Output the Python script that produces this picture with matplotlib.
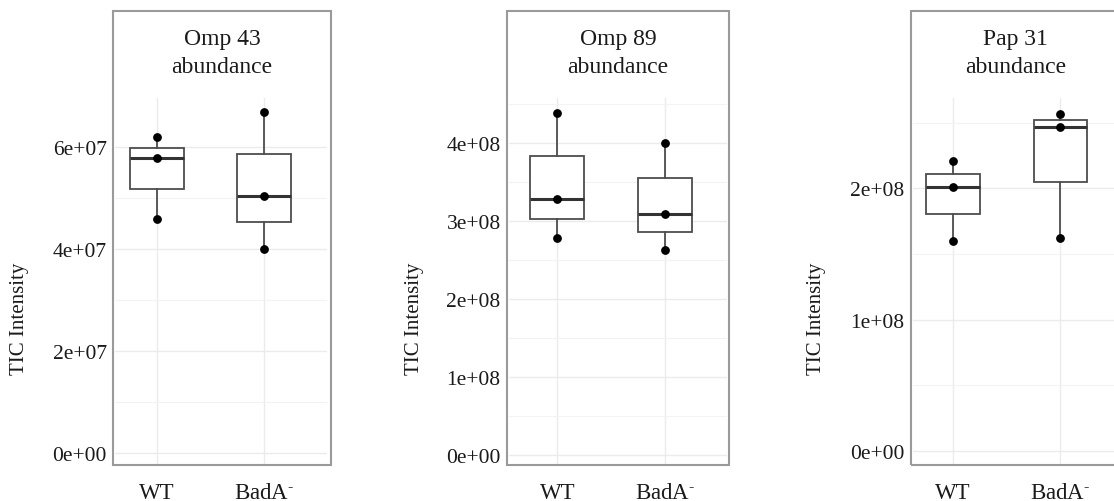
import numpy as np
import matplotlib
matplotlib.use("Agg")
import matplotlib.pyplot as plt
from matplotlib.patches import Rectangle
from matplotlib.ticker import FixedLocator, StrMethodFormatter

plt.rcParams['font.family'] = ['Liberation Serif', 'DejaVu Serif']
plt.rcParams['mathtext.fontset'] = 'custom'
plt.rcParams['mathtext.rm'] = 'Liberation Serif'
plt.rcParams['mathtext.default'] = 'regular'

# --- data (3 replicates per strain) ---
groups = ['WT', 'BadA$^{\u2010}$']
proteins = ['Omp 43', 'Omp 89', 'Pap 31']

omp43_wt = [4.59e7, 5.78e7, 6.20e7]
omp43_bada = [4.01e7, 5.05e7, 6.69e7]
omp89_wt = [2.79e8, 3.28e8, 4.39e8]
omp89_bada = [2.63e8, 3.09e8, 4.01e8]
pap31_wt = [1.60e8, 2.01e8, 2.21e8]
pap31_bada = [1.62e8, 2.47e8, 2.57e8]

major_ticks = [[0, 2e7, 4e7, 6e7],
               [0, 1e8, 2e8, 3e8, 4e8],
               [0, 1e8, 2e8]]
minor_ticks = [[1e7, 3e7, 5e7],
               [0.5e8, 1.5e8, 2.5e8, 3.5e8, 4.5e8],
               [0.5e8, 1.5e8, 2.5e8]]

series = [(omp43_wt, omp43_bada), (omp89_wt, omp89_bada), (pap31_wt, pap31_bada)]

# --- layout (pixels) ---
W, H = 1114, 502
boxes = [(113, 331), (507, 729), (911, 1120)]        # outer frame left/right
axes_x = [(115, 327), (509, 727), (913, 1116)]       # panel left/right
xlims = [(0.6125, 2.583), (0.5515, 2.573), (0.628, 2.518)]
ylims = [(-2.29e6, 6.96e7), (-1.28e7, 4.579e8), (-1.09e7, 2.686e8)]
ylabel_x = [20, 414, 817]
frame_top, panel_top, panel_bot = 12, 99.3, 466

fig = plt.figure(figsize=(W / 100, H / 100), dpi=100)

for i in range(3):
    x0, x1 = axes_x[i]
    ax = fig.add_axes([x0 / W, 1 - panel_bot / H, (x1 - x0) / W, (panel_bot - panel_top) / H])
    for s in ax.spines.values():
        s.set_visible(False)

    wt, bada = series[i]
    ax.boxplot([wt, bada], positions=[1, 2], widths=0.5, showfliers=False,
               showcaps=False, patch_artist=True, manage_ticks=False,
               boxprops=dict(facecolor='white', edgecolor='#4d4d4d', lw=1.3),
               whiskerprops=dict(color='#4d4d4d', lw=1.3),
               medianprops=dict(color='#333333', lw=2.2))
    for pos, vals in zip([1, 2], [wt, bada]):
        ax.scatter([pos] * len(vals), vals, s=28, color='black', zorder=5)

    ax.set_xlim(*xlims[i])
    ax.set_ylim(*ylims[i])
    ax.yaxis.set_major_locator(FixedLocator(major_ticks[i]))
    ax.yaxis.set_minor_locator(FixedLocator(minor_ticks[i]))
    ax.yaxis.set_major_formatter(StrMethodFormatter('{x:.0e}'))
    ax.set_xticks([1, 2])
    ax.set_xticklabels(groups)
    ax.tick_params(axis='y', which='both', length=0, labelsize=15.5, pad=6, labelcolor='#1a1a1a')
    ax.tick_params(axis='x', length=0, labelsize=16.5, pad=12, labelcolor='#1a1a1a')
    ax.grid(True, which='major', color='#ebebeb', lw=1.0, zorder=0)
    ax.grid(True, which='minor', axis='y', color='#f3f3f3', lw=0.8, zorder=0)
    ax.set_axisbelow(True)

    # outer frame that encloses the title too
    b0, b1 = boxes[i]
    fig.add_artist(Rectangle((b0 / W, 1 - panel_bot / H), (b1 - b0) / W,
                             (panel_bot - frame_top) / H, transform=fig.transFigure,
                             fill=False, edgecolor='#9a9a9a', lw=1.5))
    cx = (b0 + b1) / 2 / W
    fig.text(cx, 1 - 45 / H, proteins[i], ha='center', va='baseline', fontsize=17, color='#1a1a1a')
    fig.text(cx, 1 - 73.3 / H, 'abundance', ha='center', va='baseline', fontsize=17, color='#1a1a1a')
    fig.text(ylabel_x[i] / W, 1 - 319 / H, 'TIC Intensity', rotation=90,
             ha='center', va='center', fontsize=15, color='#1a1a1a')

fig.savefig('out.png', dpi=100)
